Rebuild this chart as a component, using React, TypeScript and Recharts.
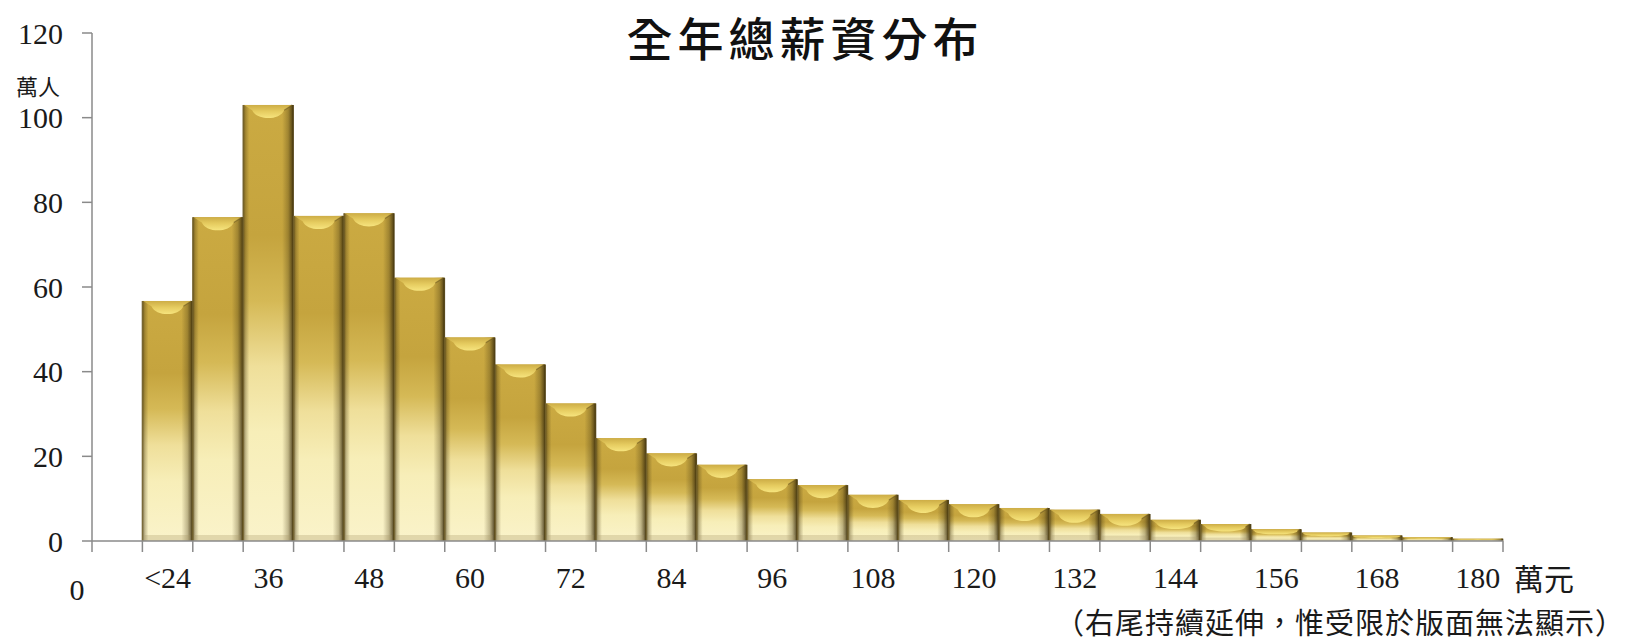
import React from 'react';
import { BarChart, Bar, XAxis, YAxis } from 'recharts';

// categories (萬元): the leading "0" slot is an empty origin slot
const categories = ['0', '<24', '30', '36', '42', '48', '54', '60', '66', '72', '78', '84', '90', '96', '102', '108', '114', '120', '126', '132', '138', '144', '150', '156', '162', '168', '174', '180'];
// headcount (萬人)
const values: (number | null)[] = [null, 56.7, 76.5, 103, 76.8, 77.4, 62.2, 48.1, 41.7, 32.5, 24.3, 20.7, 18.0, 14.6, 13.2, 10.9, 9.7, 8.7, 7.8, 7.4, 6.4, 5.0, 4.0, 2.8, 2.0, 1.3, 0.9, 0.55];
// shown tick labels
const tickLabels = ['0', '<24', '', '36', '', '48', '', '60', '', '72', '', '84', '', '96', '', '108', '', '120', '', '132', '', '144', '', '156', '', '168', '', '180'];
const yTicks = [0, 20, 40, 60, 80, 100, 120];

const data = categories.map((c, i) => ({ cat: c, value: values[i] }));

const AXIS = '#8a8a8a';
const SERIF = '"Liberation Serif", "Times New Roman", "Noto Sans CJK TC", serif';
const CJK = '"Noto Sans CJK TC", "Noto Sans CJK SC", sans-serif';

function GoldBar(props: any) {
  const { x, y, width, height } = props;
  if (height == null || height <= 0 || width <= 0) return null;
  const w = width;
  const h = height;
  const b = Math.max(0.5, Math.min(15, h * 0.5, w * 0.3));
  const bottomBand = Math.min(6, h * 0.2);
  return (
    <g>
      <rect x={x} y={y} width={w} height={h} fill="url(#goldV)" />
      <rect x={x} y={y} width={w} height={h} fill="url(#goldH)" />
      {/* top bevel */}
      <path
        d={`M${x + 1},${y} L${x + w - 1},${y} L${x + w - b * 0.6},${y + b * 0.35} C${x + w - b * 0.9},${y + b * 1.05} ${x + b * 0.9},${y + b * 1.05} ${x + b * 0.6},${y + b * 0.35} Z`}
        fill="url(#bevel)"
      />
      <line x1={x + w - 1} y1={y} x2={x + w - b * 0.6} y2={y + b * 0.35} stroke="#5a4818" strokeOpacity={0.5} strokeWidth={1.2} />
      {/* bottom base band */}
      <rect x={x + 2} y={y + h - bottomBand} width={w - 4} height={bottomBand} fill="#a89868" fillOpacity={0.3} />
      <line x1={x} y1={y} x2={x} y2={y + h} stroke="#6e5c28" strokeOpacity={0.8} strokeWidth={1.5} />
      <line x1={x + w} y1={y} x2={x + w} y2={y + h} stroke="#4e3e12" strokeOpacity={0.9} strokeWidth={1.5} />
    </g>
  );
}

function XTick(props: any) {
  const { x, y, payload, index } = props;
  const half = payload && payload.offset ? payload.offset : 25.2;
  const label = tickLabels[index] ?? '';
  const last = index === categories.length - 1;
  return (
    <g>
      <line x1={x - half} y1={y} x2={x - half} y2={y + 11} stroke={AXIS} strokeWidth={1.5} />
      {last && <line x1={x + half} y1={y} x2={x + half} y2={y + 11} stroke={AXIS} strokeWidth={1.5} />}
      {index === 0 ? (
        <text x={x - half - 15} y={y + 48} textAnchor="middle" dominantBaseline="central" fontSize={30} fontFamily={SERIF} fill="#1a1a1a">
          {label}
        </text>
      ) : label ? (
        <text x={x} y={y + 36} textAnchor="middle" dominantBaseline="central" fontSize={30} fontFamily={SERIF} fill="#1a1a1a">
          {label}
        </text>
      ) : null}
    </g>
  );
}

export default function App() {
  return (
    <div style={{ position: 'absolute', left: 0, top: 0, width: 1628, height: 643, background: '#ffffff', overflow: 'hidden' }}>
      <BarChart width={1628} height={643} data={data} margin={{ top: 33, right: 125, bottom: 0, left: 0 }} barCategoryGap={0} barGap={0}>
        <defs>
          <linearGradient id="goldV" x1="0" y1="0" x2="0" y2="1">
            <stop offset="0%" stopColor="#cbaa42" />
            <stop offset="30%" stopColor="#c5a43e" />
            <stop offset="45%" stopColor="#d5b956" />
            <stop offset="60%" stopColor="#efdf9a" />
            <stop offset="75%" stopColor="#f7eeb8" />
            <stop offset="100%" stopColor="#faf3ca" />
          </linearGradient>
          <linearGradient id="goldH" x1="0" y1="0" x2="1" y2="0">
            <stop offset="0%" stopColor="#46370f" stopOpacity={0.7} />
            <stop offset="5%" stopColor="#46370f" stopOpacity={0.3} />
            <stop offset="12%" stopColor="#46370f" stopOpacity={0} />
            <stop offset="78%" stopColor="#46370f" stopOpacity={0} />
            <stop offset="90%" stopColor="#46370f" stopOpacity={0.32} />
            <stop offset="100%" stopColor="#3c2e0c" stopOpacity={0.88} />
          </linearGradient>
          <linearGradient id="bevel" x1="0" y1="0" x2="0" y2="1">
            <stop offset="0%" stopColor="#cdad46" />
            <stop offset="50%" stopColor="#e6cc60" />
            <stop offset="100%" stopColor="#f6e47e" />
          </linearGradient>
        </defs>
        <XAxis
          dataKey="cat"
          interval={0}
          tickLine={false}
          tickSize={0}
          tickMargin={0}
          height={102}
          axisLine={{ stroke: AXIS, strokeWidth: 1.5 }}
          tick={<XTick />}
        />
        <YAxis
          domain={[0, 120]}
          ticks={yTicks}
          width={92}
          tickSize={10}
          tickMargin={19}
          axisLine={{ stroke: AXIS, strokeWidth: 1.5 }}
          tickLine={{ stroke: AXIS, strokeWidth: 1.5 }}
          tick={{ fill: '#1a1a1a', fontSize: 30, fontFamily: SERIF }}
        />
        <Bar dataKey="value" isAnimationActive={false} shape={GoldBar} />
      </BarChart>
      <div style={{ position: 'absolute', left: 0, top: 36, width: 1600, textAlign: 'center', transform: 'translateY(-50%)', fontFamily: CJK, fontSize: 46, fontWeight: 500, letterSpacing: 5, color: '#111', lineHeight: 1, paddingLeft: 5 }}>
        全年總薪資分布
      </div>
      <div style={{ position: 'absolute', left: 16, top: 85, transform: 'translateY(-50%)', fontFamily: CJK, fontSize: 22, color: '#1a1a1a', lineHeight: 1 }}>
        萬人
      </div>
      <div style={{ position: 'absolute', left: 1514, top: 577, transform: 'translateY(-50%)', fontFamily: CJK, fontSize: 30, color: '#1a1a1a', lineHeight: 1 }}>
        萬元
      </div>
      <div style={{ position: 'absolute', right: 3, top: 621, transform: 'translateY(-50%)', fontFamily: CJK, fontSize: 29, letterSpacing: 1, color: '#1a1a1a', lineHeight: 1, whiteSpace: 'nowrap' }}>
        （右尾持續延伸，惟受限於版面無法顯示）
      </div>
    </div>
  );
}
